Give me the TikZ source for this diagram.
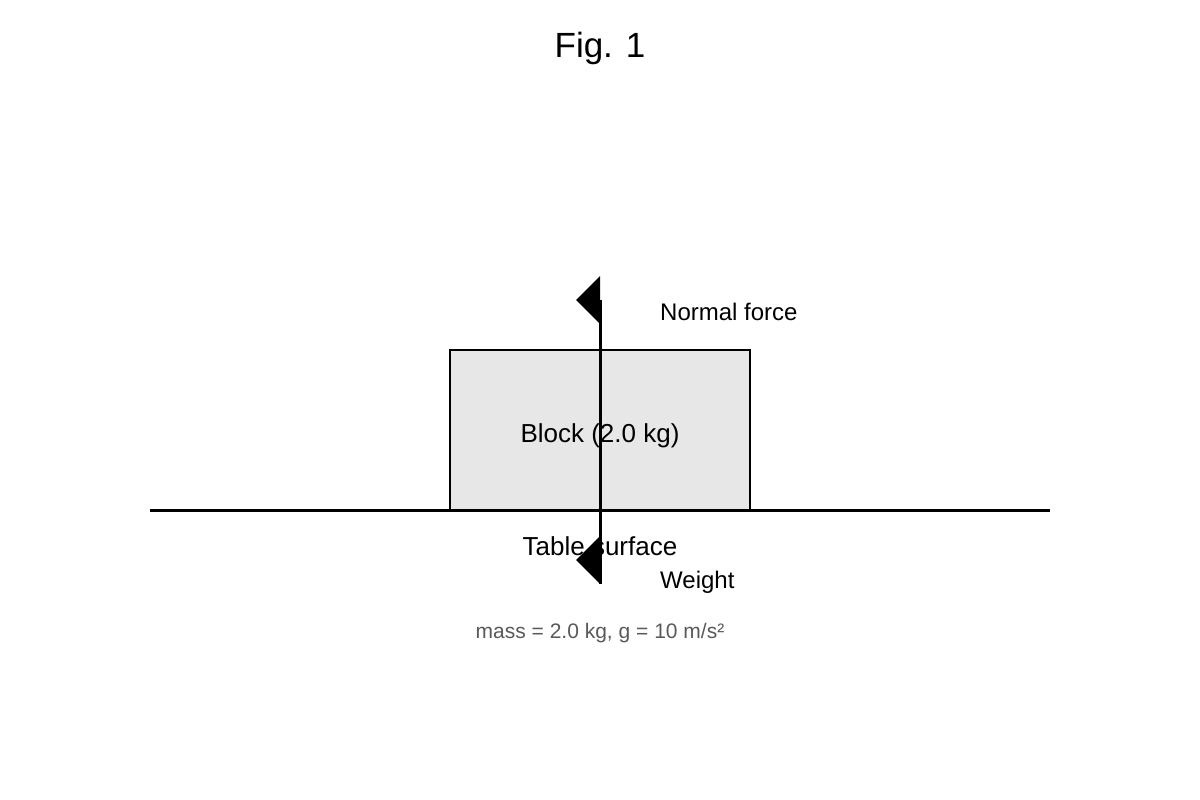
\documentclass[tikz,border=0pt]{standalone}
\usepackage{fontspec}
\setmainfont{Liberation Sans}
\begin{document}
\begin{tikzpicture}[x=1pt,y=-1pt,
  lbl/.style={inner sep=0pt,font=\fontsize{26}{30}\selectfont},
  flbl/.style={inner sep=0pt,anchor=west,font=\fontsize{24}{28}\selectfont},
  thick3/.style={line width=3pt}]
\useasboundingbox (0,0) rectangle (1200,800);
\node[inner sep=0pt,font=\fontsize{35}{40}\selectfont] (title) at (600,48) {Fig. 1};
\draw[fill=black!9.5,line width=2.5pt] (450,350) rectangle (750,510);
\node[lbl] (block) at (600,436) {Block (2.0 kg)};
\draw[thick3] (150,510) coordinate (tl) -- (1050,510) coordinate (tr);
\node[lbl] (table) at (600,546) {Table surface};
\coordinate (top) at (600,300);
\coordinate (bot) at (600,584);
\draw[thick3] (top) -- (bot);
\fill (600,276) -- (576,300) -- (600,324) -- cycle;
\fill (600,536) -- (576,560) -- (600,584) -- cycle;
\node[flbl] (nf) at (660,312) {Normal force};
\node[flbl] (w) at (660,582) {Weight};
\node[inner sep=0pt,text=black!65,font=\fontsize{21}{25}\selectfont] (m) at (600,633) {mass = 2.0 kg, g = 10 m/s²};
\end{tikzpicture}
\end{document}
